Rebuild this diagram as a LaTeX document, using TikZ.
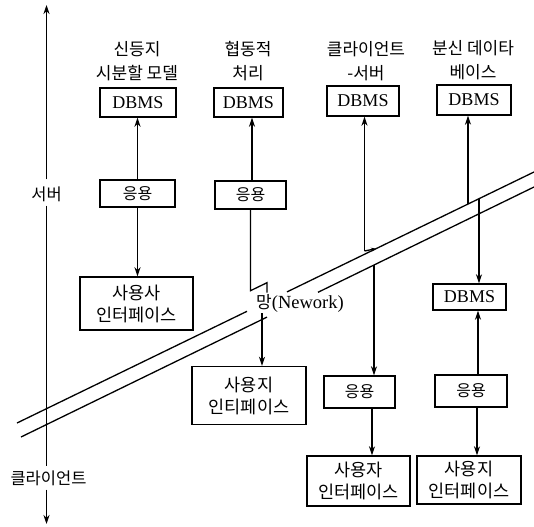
\documentclass[tikz,border=0pt]{standalone}
\usepackage{fontspec}
\setmainfont{Liberation Serif}
\newfontfamily\kr{Noto Sans CJK KR}
\usetikzlibrary{arrows.meta}
\begin{document}
\begin{tikzpicture}[x=1pt,y=-1pt,
  box/.style={draw,line width=1.4pt,inner sep=0pt,align=center},
  dbbox/.style={box,font=\fontsize{18}{20}\selectfont},
  appbox/.style={box,font=\kr\fontsize{16}{18}\selectfont},
  uibox/.style={box,font=\kr\fontsize{17.5}{22}\selectfont},
  kt/.style={font=\kr\fontsize{17}{24}\selectfont,align=center,inner sep=0pt},
  axlab/.style={font=\kr\fontsize{16.5}{24}\selectfont,inner sep=4pt},
  arr/.style={line width=1.3pt,-{Stealth[length=9pt,width=6pt]}},
  ln/.style={line width=1.3pt},
]
\useasboundingbox[fill=white] (0,0) rectangle (534,526);

% axis
\node[axlab] (srv) at (46.5,194) {서버};
\node[axlab] (cli) at (48.5,478) {클라이언트};
\draw[arr,shorten <=3pt] (srv.north) -- (srv.north |- 0,5);
\draw[ln] (srv.south) -- (srv.south |- cli.north);
\draw[arr] (srv.south |- cli.south) -- (srv.south |- 0,524);

% network band
\coordinate (u0) at (17,423);  \coordinate (u1) at (247,311.3);
\coordinate (u2) at (287,291.9); \coordinate (u3) at (534,172);
\coordinate (l0) at (21,437);  \coordinate (l1) at (267,317.1);
\coordinate (l2) at (318,292.3); \coordinate (l3) at (534,187);
\draw[ln] (u0) -- (u1);
\draw[ln] (u2) -- (u3);
\draw[ln] (l0) -- (l1);
\draw[ln] (l2) -- (l3);
\node[font=\fontsize{18.5}{20}\selectfont,inner sep=0pt] (net) at (300,303) {{\kr\fontsize{17}{20}\selectfont 망}(Nework)};

% top labels
\node[kt] (t1) at (137,61) {신등지\\시분할 모델};
\node[kt] (t2) at (248,61) {협동적\\처리};
\node[kt] (t3) at (366,61) {클라이언트\\-서버};
\node[kt] (t4) at (473,60) {분신 데이타\\베이스};

% column 1
\node[dbbox,minimum width=76pt,minimum height=29pt] (db1) at (138,102.5) {DBMS};
\node[appbox,minimum width=75pt,minimum height=27pt] (app1) at (137.5,193.5) {응용};
\node[uibox,minimum width=113pt,minimum height=53pt] (ui1) at (136.5,303.5) {사용사\\인터페이스};
\draw[arr] (app1.north) -- (app1.north |- db1.south);
\draw[arr] (app1.south) -- (app1.south |- ui1.north);

% column 2
\node[dbbox,minimum width=69pt,minimum height=29pt] (db2) at (248.5,102.5) {DBMS};
\node[appbox,minimum width=71pt,minimum height=28pt] (app2) at (250.5,195) {응용};
\node[uibox,minimum width=114pt,minimum height=58pt] (ui2) at (249,395.5) {사용지\\인티페이스};
\draw[arr] ([xshift=1.5pt]app2.north) -- ([xshift=1.5pt]app2.north |- db2.south);
\draw[ln] (app2.south) -- ++(0,81) -- ++(16.5,-8) -- ++(0,10);
\coordinate (n2) at (262,313);
\draw[arr] (n2) -- (n2 |- ui2.north);

% column 3
\node[dbbox,minimum width=72pt,minimum height=30pt] (db3) at (363,101) {DBMS};
\node[appbox,minimum width=71pt,minimum height=32pt] (app3) at (359.5,392) {응용};
\node[uibox,minimum width=103pt,minimum height=50pt] (ui3) at (358.5,481) {사용자\\인터페이스};
\coordinate (c3a) at (364.5,251);
\coordinate (c3b) at (376,248.7);
\draw[arr] (c3a) -- (c3a |- db3.south);
\draw[ln,-{Stealth[length=5pt,width=4pt]}] (c3a) -- (c3b);
\coordinate (c3c) at (374,265);
\draw[arr] (c3c) -- (c3c |- app3.north);
\draw[arr] ([xshift=12.5pt]app3.south) -- ([xshift=12.5pt]app3.south |- ui3.north);

% column 4
\node[dbbox,minimum width=74pt,minimum height=30pt] (db4) at (474,100) {DBMS};
\node[dbbox,minimum width=73pt,minimum height=26pt] (db4b) at (469.5,297) {DBMS};
\node[appbox,minimum width=72pt,minimum height=32pt] (app4) at (471,391) {응용};
\node[uibox,minimum width=104pt,minimum height=48pt] (ui4) at (469,480) {사용지\\인터페이스};
\coordinate (c4a) at (468,204.2);
\coordinate (c4b) at (479,198.7);
\draw[arr] (c4a) -- (c4a |- db4.south);
\draw[arr] (c4b) -- (c4b |- db4b.north);
\draw[arr] ([xshift=7pt]app4.north) -- ([xshift=7pt]app4.north |- db4b.south);
\draw[arr] ([xshift=6pt]app4.south) -- ([xshift=6pt]app4.south |- ui4.north);
\end{tikzpicture}
\end{document}
